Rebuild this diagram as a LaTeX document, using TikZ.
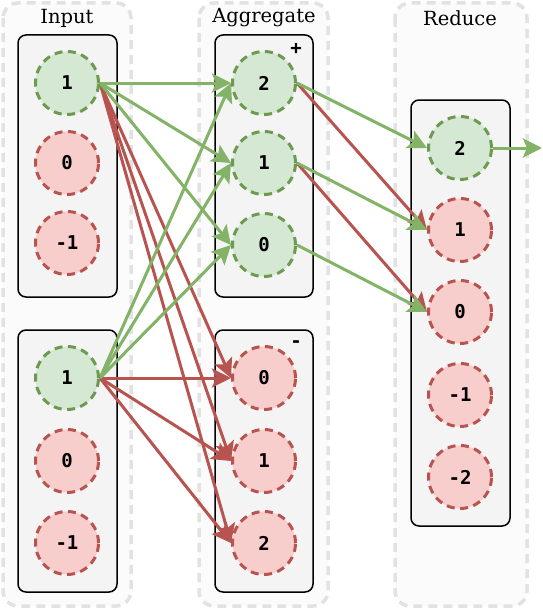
\documentclass[tikz,border=0pt]{standalone}
\usepackage{fontspec}
\newfontfamily\hdfont{DejaVu Serif}
\newfontfamily\numfont{DejaVu Sans Mono}
\usetikzlibrary{arrows.meta}
\definecolor{outerfill}{HTML}{FBFBFB}
\definecolor{outerline}{HTML}{E2E2E2}
\definecolor{innerfill}{HTML}{F4F4F4}
\definecolor{gfill}{HTML}{D5E8D4}
\definecolor{gline}{HTML}{6D9A50}
\definecolor{garrow}{HTML}{82B366}
\definecolor{rfill}{HTML}{F8CECC}
\definecolor{rline}{HTML}{B85450}
\pgfdeclarelayer{bg}
\pgfdeclarelayer{edges}
\pgfsetlayers{bg,edges,main}
\tikzset{
  outerbox/.style={draw=outerline, fill=outerfill, line width=3.5pt, dash pattern=on 9pt off 6pt, rounded corners=15pt},
  innerbox/.style={draw=black, fill=innerfill, line width=1.5pt, rounded corners=8pt},
  header/.style={font=\hdfont\fontsize{19.5}{22}\selectfont, text=black},
  numbase/.style={circle, minimum size=63pt, inner sep=0pt, line width=3pt, dash pattern=on 8pt off 5.5pt, font=\numfont\bfseries\fontsize{19}{21}\selectfont},
  gnode/.style={numbase, draw=gline, fill=gfill},
  rnode/.style={numbase, draw=rline, fill=rfill},
  arrowtip/.style={-{Stealth[length=19pt, width=19pt, inset=4pt]}},
  garr/.style={draw=garrow, line width=3pt, arrowtip},
  rarr/.style={draw=rline, line width=3pt, arrowtip},
  sign/.style={font=\numfont\bfseries\fontsize{19}{21}\selectfont}
}
\begin{document}
\begin{tikzpicture}[x=1pt, y=-1pt]
\useasboundingbox (0,0) rectangle (542,610);
\begin{pgfonlayer}{bg}
  \draw[outerbox] (3,3) rectangle (131,606);
  \draw[outerbox] (199,3) rectangle (328,606);
  \draw[outerbox] (395,3) rectangle (527,606);
  \draw[innerbox] (18,35) rectangle (117,297);
  \draw[innerbox] (18,330) rectangle (117,592);
  \draw[innerbox] (215,35) rectangle (313,297);
  \draw[innerbox] (215,330) rectangle (313,592);
  \draw[innerbox] (411,100) rectangle (510,526);
\end{pgfonlayer}
\node[header] (hin) at (67,18) {Input};
\node[header] (hag) at (264,18) {Aggregate};
\node[header] (hre) at (460,18) {Reduce};
\node[sign] (plus) at (296,49) {+};
\node[sign] (minus) at (296,344) {-};
% input top
\node[gnode] (ia1) at (67,83) {1};
\node[rnode] (ia0) at (67,163) {0};
\node[rnode] (iam) at (67,243) {-1};
% input bottom
\node[gnode] (ib1) at (67,378) {1};
\node[rnode] (ib0) at (67,461) {0};
\node[rnode] (ibm) at (67,543) {-1};
% aggregate +
\node[gnode] (p2) at (264,83) {2};
\node[gnode] (p1) at (264,163) {1};
\node[gnode] (p0) at (264,245) {0};
% aggregate -
\node[rnode] (m0) at (264,378) {0};
\node[rnode] (m1) at (264,461) {1};
\node[rnode] (m2) at (264,543) {2};
% reduce
\node[gnode] (r2) at (460,148) {2};
\node[rnode] (r1) at (460,230) {1};
\node[rnode] (r0) at (460,312) {0};
\node[rnode] (rm1) at (460,395) {-1};
\node[rnode] (rm2) at (460,477) {-2};
\coordinate (out) at (542,148);
\begin{pgfonlayer}{edges}
  \draw[rarr] (ia1.east) -- (m0.west);
  \draw[rarr] (ia1.east) -- (m1.west);
  \draw[rarr] (ia1.east) -- (m2.west);
  \draw[rarr] (ib1.east) -- (m0.west);
  \draw[rarr] (ib1.east) -- (m1.west);
  \draw[rarr] (ib1.east) -- (m2.west);
  \draw[garr] (ia1.east) -- (p2.west);
  \draw[garr] (ia1.east) -- (p1.west);
  \draw[garr] (ia1.east) -- (p0.west);
  \draw[garr] (ib1.east) -- (p2.west);
  \draw[garr] (ib1.east) -- (p1.west);
  \draw[garr] (ib1.east) -- (p0.west);
  \draw[rarr] (p2.east) -- (r1.west);
  \draw[rarr] (p1.east) -- (r0.west);
  \draw[garr] (p2.east) -- (r2.west);
  \draw[garr] (p1.east) -- (r1.west);
  \draw[garr] (p0.east) -- (r0.west);
  \draw[garr] (r2.east) -- (out);
\end{pgfonlayer}
\end{tikzpicture}
\end{document}
